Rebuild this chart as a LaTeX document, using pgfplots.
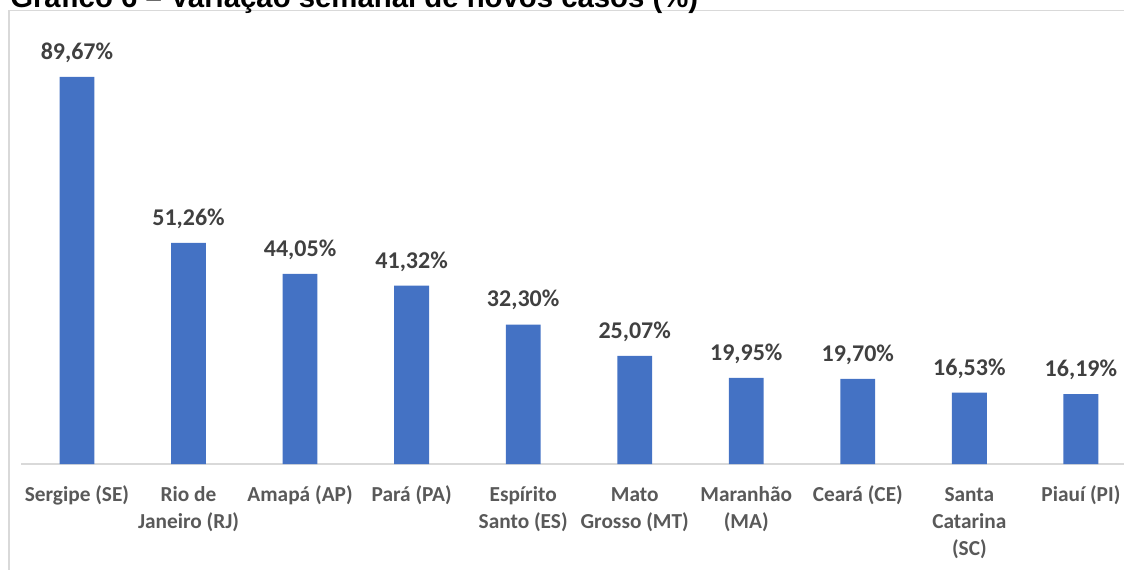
\documentclass[border=0pt]{standalone}
\usepackage{pgfplots}
\pgfplotsset{compat=1.18}
\usepackage{fontspec}
\setmainfont{Carlito}
\newfontfamily\titlefont{Liberation Sans}
\definecolor{barblue}{HTML}{4472C4}
\definecolor{lblgray}{HTML}{404040}
\definecolor{tickgray}{HTML}{595959}
\definecolor{framegray}{HTML}{D9D9D9}
\begin{document}
\begin{tikzpicture}
\useasboundingbox (0,0) rectangle (843pt,426.75pt);
\draw[framegray, line width=1.1pt] (6.75pt,-10pt) -- (6.75pt,418.9pt) -- (860pt,418.9pt);
\node[anchor=base west, inner sep=0pt, font={\titlefont\fontsize{22}{26}\selectfont\bfseries}] at (7.5pt,421.3pt) {Gráfico 6 – Variação semanal de novos casos (\%)};
\begin{axis}[
  at={(15.9pt,78.75pt)}, anchor=south west,
  scale only axis,
  width=836.6pt, height=323.7pt,
  xmin=-0.5, xmax=9.5, ymin=0, ymax=100,
  axis x line*=bottom, axis y line=none,
  x axis line style={draw=framegray, line width=1.1pt, -},
  xtick=data, ytick=\empty,
  major tick length=0pt,
  xticklabels={\strut Sergipe (SE), \strut Rio de\\Janeiro (RJ), \strut Amapá (AP), \strut Pará (PA), \strut Espírito\\Santo (ES), \strut Mato\\Grosso (MT), \strut Maranhão\\(MA), \strut Ceará (CE), \strut Santa\\Catarina\\(SC), \strut Piauí (PI)},
  xticklabel style={align=center, text=tickgray, font={\fontsize{16}{20.25}\selectfont\bfseries}, yshift=-10.5pt},
  ybar, bar width=26.1pt,
  point meta=explicit symbolic,
  nodes near coords,
  nodes near coords style={anchor=base, yshift=13.2pt, text=lblgray, font={\fontsize{18}{22}\selectfont\bfseries}},
  clip=false,
]
\addplot[fill=barblue, draw=none] coordinates {
  (0,89.67) [89,67\%]
  (1,51.26) [51,26\%]
  (2,44.05) [44,05\%]
  (3,41.32) [41,32\%]
  (4,32.30) [32,30\%]
  (5,25.07) [25,07\%]
  (6,19.95) [19,95\%]
  (7,19.70) [19,70\%]
  (8,16.53) [16,53\%]
  (9,16.19) [16,19\%]
};
\end{axis}
\end{tikzpicture}
\end{document}
